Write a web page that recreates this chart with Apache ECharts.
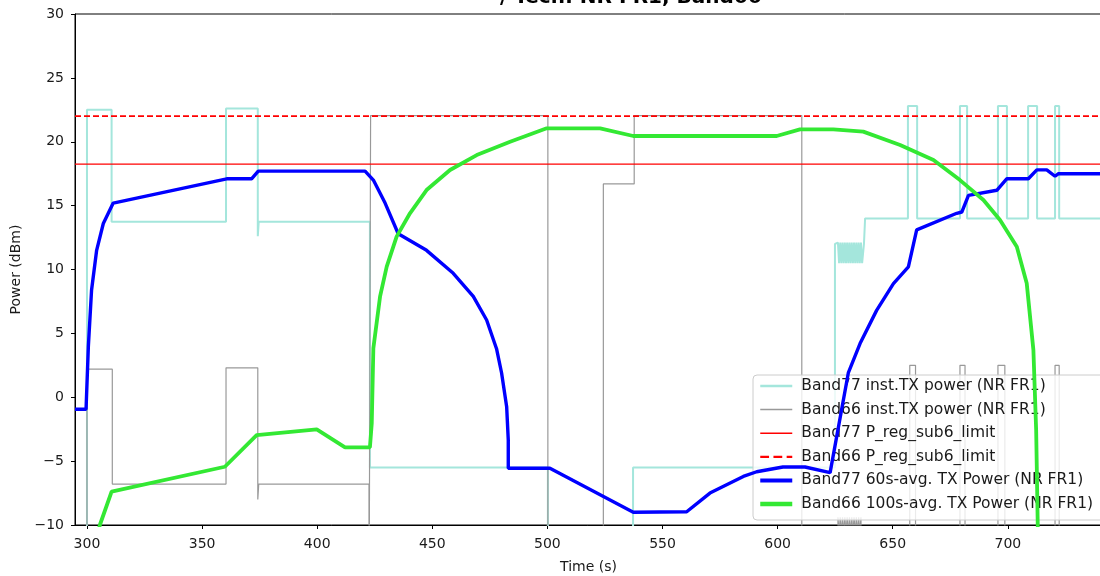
<!DOCTYPE html>
<html>
<head>
<meta charset="utf-8">
<script src="https://cdn.jsdelivr.net/npm/echarts@6/dist/echarts.min.js"></script>
<style>
html,body{margin:0;padding:0;background:#fff;}
#chart{width:1100px;height:576px;}
</style>
</head>
<body>
<div id="chart"></div>
<script>
// ---- data (time in s, power in dBm) ----
const titleText = '/ Tech: NR FR1, Band66';
const xTicks = [300, 350, 400, 450, 500, 550, 600, 650, 700];
const seriesNames = [
  'Band77 inst.TX power (NR FR1)',
  'Band66 inst.TX power (NR FR1)',
  'Band77 P_reg_sub6_limit',
  'Band66 P_reg_sub6_limit',
  'Band77 60s-avg. TX Power (NR FR1)',
  'Band66 100s-avg. TX Power (NR FR1)'
];
const b77Limit = 18.25;
const b66Limit = 22.0;

const b77Inst = [
  [300,-40],[300,22.5],[310.7,22.5],[310.7,13.74],[360.4,13.74],[360.4,22.6],[374.2,22.6],
  [374.2,12.6],[374.6,13.74],[422.9,13.74],[422.9,-5.5],[500.2,-5.5],[500.2,-40],[537.2,-40],
  [537.2,-5.5],[624.9,-5.5],[624.9,12.0],
  [626.2,12.1],[626.7,10.5],[627.2,12.1],[627.7,10.5],[628.2,12.1],[628.7,10.5],[629.2,12.1],
  [629.7,10.5],[630.2,12.1],[630.7,10.5],[631.2,12.1],[631.7,10.5],[632.2,12.1],[632.7,10.5],
  [633.2,12.1],[633.7,10.5],[634.2,12.1],[634.7,10.5],[635.2,12.1],[635.7,10.5],[636.2,12.1],
  [636.7,10.5],[637.5,12.0],[638,12.0],[638,14.0],
  [656.6,14.0],[656.6,22.8],[660.6,22.8],[660.6,14.0],
  [679.2,14.0],[679.2,22.8],[682.3,22.8],[682.3,14.0],
  [695.7,14.0],[695.7,22.8],[699.6,22.8],[699.6,14.0],
  [708.8,14.0],[708.8,22.8],[712.7,22.8],[712.7,14.0],
  [720.5,14.0],[720.5,22.8],[722.3,22.8],[722.3,14.0],[742,14.0]
];

const b66Inst = [
  [300,-40],[300,2.2],[311,2.2],[311,-6.8],[360.4,-6.8],[360.4,2.3],[374.2,2.3],[374.2,-8.0],
  [374.6,-6.8],[422.5,-6.8],[422.5,-20],[423.2,-20],[423.2,22.05],[500.2,22.05],[500.2,-20],
  [524.3,-20],[524.3,16.7],[537.7,16.7],[537.7,22.05],[610.5,22.05],[610.5,-20],
  [626.2,-20],[626.2,-9.4],[626.7,-10.6],[627.2,-9.4],[627.7,-10.6],[628.2,-9.4],[628.7,-10.6],
  [629.2,-9.4],[629.7,-10.6],[630.2,-9.4],[630.7,-10.6],[631.2,-9.4],[631.7,-10.6],[632.2,-9.4],
  [632.7,-10.6],[633.2,-9.4],[633.7,-10.6],[634.2,-9.4],[634.7,-10.6],[635.2,-9.4],[635.7,-10.6],
  [636.2,-9.4],[636.7,-20],
  [657.4,-20],[657.4,2.5],[659.9,2.5],[659.9,-20],
  [679.2,-20],[679.2,2.5],[681.4,2.5],[681.4,-20],
  [695.7,-20],[695.7,2.5],[698.7,2.5],[698.7,-20],
  [720.5,-20],[720.5,2.5],[722.3,2.5],[722.3,-20],[742,-20]
];

const b77Avg = [
  [294.8,-0.94],[299.6,-0.94],[299.9,-1.0],[300.6,3.96],[302.0,8.4],[304.2,11.5],[307.1,13.6],
  [311.4,15.2],[360.7,17.1],[371.5,17.1],[374.4,17.7],[420.8,17.7],[424.4,17.0],[429.5,15.2],
  [435.2,12.8],[447.5,11.5],[459.1,9.7],[467.8,7.9],[473.6,6.05],[477.9,3.8],[480.1,1.9],
  [482.3,-0.74],[483.0,-3.35],[483.0,-5.56],[501.1,-5.56],[537.3,-9.0],[560.5,-8.96],
  [570.6,-7.5],[585.1,-6.2],[590.9,-5.83],[602.3,-5.46],[611.9,-5.46],[622.8,-5.9],
  [630.7,1.9],[635.8,4.2],[643.0,6.8],[650.3,8.9],[656.8,10.2],[660.4,13.1],[677.8,14.4],
  [680.0,14.5],[682.9,15.8],[695.2,16.2],[699.5,17.1],[708.9,17.1],[712.6,17.8],[716.9,17.8],
  [720.5,17.3],[722.0,17.5],[742,17.5]
];

const b66Avg = [
  [303.5,-11.57],[305.6,-10.0],[310.7,-7.39],[359.9,-5.44],[373.7,-2.96],[399.8,-2.51],
  [412.1,-3.92],[422.9,-3.92],[423.7,-2.04],[424.4,3.83],[427.3,7.87],[430.2,10.22],
  [434.5,12.57],[440.3,14.4],[447.5,16.22],[457.7,17.79],[469.3,18.96],[483.8,20.0],
  [499.7,21.05],[522.9,21.05],[537.3,20.45],[599.6,20.45],[609.7,20.97],[624.2,20.97],
  [637.2,20.79],[653.2,19.75],[667.7,18.57],[679.2,17.0],[689.4,15.44],[696.6,13.87],
  [703.9,11.78],[708.2,8.92],[711.1,3.7],[712.3,-2.56],[713.1,-11.2]
];

const xMin = 294.8, xMax = 740.9;
const yMin = -10, yMax = 30, yStep = 5;

const FONT = 'DejaVu Sans';
const styles = [
  {color: '#a4e6dc', width: 2, type: 'solid', legendType: 'solid', legendWidth: 2.5},
  {color: '#999999', width: 1.2, type: 'solid', legendType: 'solid', legendWidth: 1.5},
  {color: '#ff0000', width: 1.3, type: 'solid', legendType: 'solid', legendWidth: 1.5},
  {color: '#ff0000', width: 1.8, type: [6, 3], legendType: 'dashed', legendWidth: 2.2},
  {color: '#0000ff', width: 3.4, type: 'solid', legendType: 'solid', legendWidth: 4},
  {color: '#33e833', width: 3.8, type: 'solid', legendType: 'solid', legendWidth: 4.5}
];
const seriesData = [
  b77Inst, b66Inst,
  [[xMin, b77Limit], [xMax, b77Limit]],
  [[xMin, b66Limit], [xMax, b66Limit]],
  b77Avg, b66Avg
];
const zs = [1, 2, 3, 3, 4, 5];
const minusFmt = v => String(v).replace('-', '\u2212');

const chart = echarts.init(document.getElementById('chart'));
chart.setOption({
  animation: false,
  backgroundColor: '#fff',
  title: {
    text: titleText, left: 500, top: -12, padding: 0,
    textStyle: {fontFamily: FONT, fontSize: 20, fontWeight: 'bold', color: '#000'}
  },
  grid: {left: 75, right: -2, top: 14, bottom: 51, show: true, borderColor: '#000', borderWidth: 1,
         outerBoundsMode: 'none', containLabel: false},
  legend: {
    orient: 'vertical', left: 753, top: 375,
    padding: [3, 60, 8, 5], itemGap: 7.6, itemWidth: 32, itemHeight: 14,
    backgroundColor: 'rgba(255,255,255,0.8)', borderColor: '#cccccc', borderWidth: 1, borderRadius: 4,
    itemStyle: {opacity: 0},
    textStyle: {fontFamily: FONT, fontSize: 15.5, color: '#1a1a1a', padding: [0,0,0,4]},
    data: seriesNames.map((n, i) => ({
      name: n,
      itemStyle: {opacity: 0},
      lineStyle: {color: styles[i].color, width: styles[i].legendWidth, type: styles[i].legendType,
                  opacity: 1}
    }))
  },
  xAxis: {
    type: 'value', min: xMin, max: xMax,
    name: 'Time (s)', nameLocation: 'middle', nameGap: 35,
    nameTextStyle: {fontFamily: FONT, fontSize: 14, color: '#1a1a1a'},
    axisLine: {show: true, onZero: false, lineStyle: {color: '#000', width: 1}},
    axisTick: {show: true, length: 4, lineStyle: {color: '#000'}, customValues: xTicks},
    axisLabel: {fontFamily: FONT, fontSize: 14, color: '#1a1a1a', margin: 12, customValues: xTicks},
    splitLine: {show: false}
  },
  yAxis: {
    type: 'value', min: yMin, max: yMax, interval: yStep,
    name: 'Power (dBm)', nameLocation: 'middle', nameGap: 48,
    nameTextStyle: {fontFamily: FONT, fontSize: 14, color: '#1a1a1a'},
    axisLine: {show: true, onZero: false, lineStyle: {color: '#000', width: 1}},
    axisTick: {show: true, length: 4, lineStyle: {color: '#000'}},
    axisLabel: {fontFamily: FONT, fontSize: 14, color: '#1a1a1a', margin: 11, formatter: minusFmt},
    splitLine: {show: false}
  },
  series: seriesNames.map((n, i) => ({
    name: n, type: 'line', data: seriesData[i], symbol: 'none', clip: true, z: zs[i],
    lineStyle: {color: styles[i].color, width: styles[i].width, type: styles[i].type},
    itemStyle: {color: styles[i].color}
  }))
});
</script>
</body>
</html>
